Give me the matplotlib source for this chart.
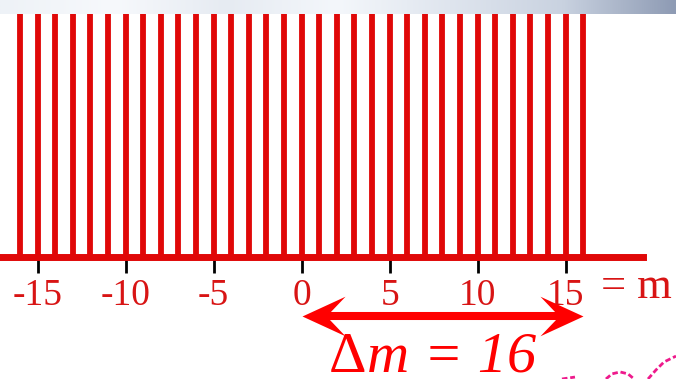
import numpy as np
import matplotlib
matplotlib.use("Agg")
import matplotlib.pyplot as plt
from matplotlib.path import Path
from matplotlib.colors import LinearSegmentedColormap

# comb of spectral lines, one per m
m_values = np.arange(-16, 17)
amplitudes = np.ones(len(m_values))

tick_positions = [-15, -10, -5, 0, 5, 10, 15]
tick_labels = ["-15", "-10", "-5", "0", "5", "10", "15"]

# span of the double arrow and its label
span_start, span_stop = 0, 16
span_symbol = "\u0394"
span_text = "m = 16"

# bit of the next curve peeking in at the bottom right
wave_x = [14.79, 15.53, np.nan, 17.29, 17.63, 18.09, 18.54, 18.89, np.nan,
          19.68, 20.13, 20.59, 21.27]
wave_y = [-0.499, -0.491, np.nan, -0.499, -0.478, -0.470, -0.478, -0.499, np.nan,
          -0.499, -0.462, -0.429, -0.405]

comb_red = "#e00808"
text_red = "#d81414"
arrow_red = "#ff0000"
serif = "Liberation Serif"

fig = plt.figure(figsize=(6.76, 3.79), dpi=100)
ax = fig.add_axes([0, 0, 1, 1])
ax.set_xlim(-17.14, 21.27)
ax.set_ylim(-0.499, 1.0575)

ax.vlines(m_values, 0, amplitudes, colors=comb_red, linewidth=4.2, zorder=2)

# axis line through y = 0 with black ticks
for side in ["left", "right", "top"]:
    ax.spines[side].set_visible(False)
ax.spines["bottom"].set_position(("data", 0))
ax.spines["bottom"].set_bounds(-17.3, 19.39)
ax.spines["bottom"].set_color(comb_red)
ax.spines["bottom"].set_linewidth(5)
ax.spines["bottom"].set_zorder(3)
ax.set_yticks([])
ax.set_xticks(tick_positions)
ax.set_xticklabels(tick_labels, fontfamily=serif, fontsize=27, color=text_red)
ax.tick_params(axis="x", direction="out", length=11.2, width=2, color="black", pad=3.6)

ax.text(17.03, -0.166, "= m", fontfamily=serif, fontsize=32,
        color=text_red, ha="left", va="baseline")

# double arrow with barbed heads
y_arrow = -0.242
head = Path([(0, 0), (-1, 0.46), (-0.56, 0), (-1, -0.46), (0, 0)],
            [Path.MOVETO, Path.LINETO, Path.LINETO, Path.LINETO, Path.CLOSEPOLY])
head_left = Path(-head.vertices, head.codes)
ax.plot([span_start + 1, span_stop - 1], [y_arrow, y_arrow], color=arrow_red,
        linewidth=5.8, solid_capstyle="butt", zorder=4)
ax.plot([span_stop], [y_arrow], marker=head, markersize=62, color=arrow_red,
        markeredgewidth=0, linestyle="none", zorder=4)
ax.plot([span_start], [y_arrow], marker=head_left, markersize=62, color=arrow_red,
        markeredgewidth=0, linestyle="none", zorder=4)

# upright delta followed by the italic rest
delta = ax.text(1.55, -0.470, span_symbol, fontfamily=serif, fontsize=42,
                color=arrow_red, ha="left", va="baseline")
ax.annotate(span_text, xy=(1, 0), xycoords=delta, fontfamily=serif, fontsize=42,
            fontstyle="italic", color=arrow_red, ha="left", va="bottom")

ax.plot(wave_x, wave_y, color="#ee1a8c", linewidth=2, linestyle=(0, (2, 1)), zorder=1)

# shaded strip along the top edge
band = fig.add_axes([0, 1 - 14 / 379, 1, 14 / 379])
band_cmap = LinearSegmentedColormap.from_list(
    "band", ["#eef2f7", "#f7f9fc", "#e6ebf2", "#f4f7fb", "#dfe5ee", "#c9d2e0", "#8e9bb4"])
grad = np.linspace(0, 1, 256)[None, :] * np.ones((4, 1))
band.imshow(grad, aspect="auto", cmap=band_cmap, extent=[0, 1, 0, 1])
band.axis("off")

fig.savefig("out.png", dpi=100)
